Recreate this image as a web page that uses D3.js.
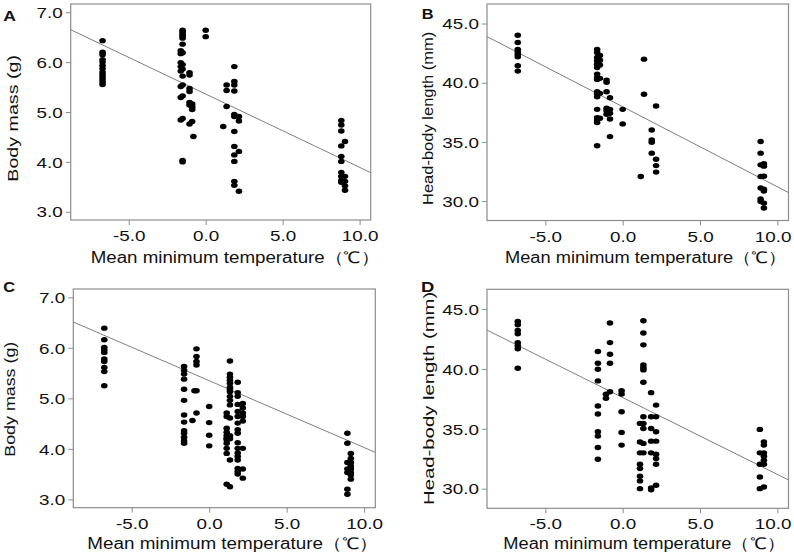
<!DOCTYPE html>
<html><head><meta charset="utf-8">
<script src="https://cdn.jsdelivr.net/npm/d3@7"></script>
<style>
body{margin:0;background:#fff}
svg{display:block}
text{font-family:"Liberation Sans",Arial,sans-serif;fill:#111}
</style>
</head><body>
<svg id="chart" width="794" height="558"></svg>
<script>
// ---------- data ----------
const tempTicks = [-5, 0, 5, 10];
const massTicks = [3, 4, 5, 6, 7];
const lengthTicks = [30, 35, 40, 45];
const xTitleText = "Mean minimum temperature\uFF08\u2103\uFF09";

// each entry: [mean minimum temperature, [values at that temperature]]
const massA = [
  [-6.7, [6.43, 6.2, 6.15, 6.05, 6.0, 5.93, 5.87, 5.8, 5.75, 5.7, 5.65, 5.6, 5.55]],
  [-1.5, [6.64, 6.6, 6.56, 6.52, 6.48, 6.36, 6.19, 5.95, 5.86, 5.72, 5.54, 5.32, 4.87, 4.03, 4.0]],
  [-1.62, [6.23, 6.17, 5.99, 5.91, 5.82, 5.51, 5.29, 4.84]],
  [0.0, [6.64, 6.51]],
  [-1.05, [5.79, 5.74, 5.47, 5.41, 5.19, 5.14, 4.76]],
  [-0.88, [5.16, 5.12, 5.09, 5.05, 4.81]],
  [-0.8, [4.51]],
  [1.14, [4.71]],
  [1.36, [5.54, 5.43, 5.11]],
  [1.86, [5.91, 5.61, 5.54, 5.42, 4.95, 4.91, 4.61, 4.31, 4.14, 4.01, 3.61, 3.53]],
  [2.16, [4.91, 4.82, 4.21, 3.41]],
  [8.81, [4.83, 4.74, 4.62, 4.32, 4.11, 4.01, 3.79, 3.71, 3.63, 3.59]],
  [9.05, [4.41, 3.71, 3.61, 3.52, 3.43]]
];
const lengthB = [
  [-6.78, [44.01, 43.4, 42.81, 42.6, 42.39, 42.19, 41.43, 40.98]],
  [-1.65, [42.81, 42.56, 42.14, 41.85, 41.57, 41.29, 40.73, 40.45, 40.28, 39.24, 39.04, 38.82, 37.75, 37.05, 36.85, 36.63, 34.67]],
  [-1.47, [42.3, 41.9, 41.5, 40.37, 39.1, 37.0]],
  [-1.04, [40.22, 40.03, 39.24, 37.84, 37.64, 37.33]],
  [-0.82, [38.73, 37.75, 37.42, 36.94, 35.45]],
  [0.0, [37.75, 36.52]],
  [1.17, [32.08]],
  [1.38, [41.99, 39.02]],
  [1.88, [36.01, 35.17, 34.97, 34.05]],
  [2.16, [38.03, 33.54, 33.0, 32.45]],
  [8.92, [35.03, 34.05, 33.06, 32.08, 31.1, 30.17, 29.97]],
  [9.13, [33.15, 32.95, 32.1, 31.0, 30.85, 29.83, 29.41]]
];
const massC = [
  [-6.77, [6.39, 6.16, 6.01, 5.96, 5.91, 5.78, 5.73, 5.61, 5.53, 5.25]],
  [-1.62, [5.63, 5.55, 5.48, 5.38, 5.18, 4.96, 4.67, 4.53, 4.36, 4.31, 4.23, 4.16, 4.11]],
  [-1.08, [4.56]],
  [-0.95, [5.15]],
  [-0.82, [5.98, 5.83, 5.73, 5.66, 5.15, 4.71]],
  [0.0, [4.84, 4.52, 4.27, 4.06]],
  [1.13, [4.71, 4.64, 4.41, 4.33, 4.26, 4.21, 4.18, 4.11, 4.01, 3.91, 3.3]],
  [1.34, [5.74, 5.48, 5.42, 5.36, 5.3, 5.22, 5.17, 5.13, 5.04, 4.96, 4.87, 4.61, 4.26, 4.2, 3.78, 3.25]],
  [1.84, [5.32, 5.11, 5.04, 4.88, 4.74, 4.64, 4.51, 4.38, 4.31, 4.12, 4.01, 3.92, 3.85, 3.78, 3.61, 3.55, 3.5]],
  [2.17, [4.9, 4.81, 4.71, 4.64, 4.55, 4.01, 3.6, 3.42]],
  [8.92, [4.31, 4.11, 3.73, 3.6, 3.53, 3.2, 3.1]],
  [9.14, [3.91, 3.81, 3.73, 3.66, 3.6, 3.53, 3.48, 3.4]]
];
const lengthD = [
  [-6.78, [43.96, 43.69, 43.21, 42.93, 42.2, 41.93, 41.68, 40.06]],
  [-1.6, [41.45, 40.48, 39.97, 39.0, 36.9, 36.23, 34.75, 34.39, 33.44, 32.46]],
  [-1.08, [37.88, 37.55]],
  [-0.82, [43.83, 42.2, 41.23, 40.48, 38.1]],
  [-0.07, [38.18, 37.9, 36.42, 34.7, 33.64]],
  [1.12, [35.45, 33.9, 32.99, 32.04, 31.68, 31.04, 30.65, 30.0]],
  [1.34, [44.02, 43.0, 42.01, 40.33, 40.1, 39.92, 38.89, 36.0, 35.45, 35.03, 33.78, 32.99]],
  [1.84, [38.02, 36.0, 35.03, 33.97, 32.99, 30.06, 29.9]],
  [2.16, [36.98, 36.0, 34.75, 33.97, 32.88, 32.52, 32.04, 30.28]],
  [8.87, [34.95, 32.99, 32.04, 30.98, 30.0]],
  [9.13, [33.91, 33.64, 32.99, 32.71, 32.38, 32.04, 30.14]]
];
// fitted regression lines: value = intercept + slope * temperature
const fitA = [5.36, -0.147];
const fitB = [37.97, -0.676];
const fitC = [5.35, -0.1324];
const fitD = [37.61, -0.642];

// ---------- layout ----------
const panels = [
  {letter:"A", data:massA, fit:fitA, ticks:massTicks, yDomain:[2.835,7.165], yTitle:"Body mass (g)",
   rect:[70.7,370.7,4,220], letterPos:[3.3,20.7,12.7], xt:[90.7,263,289], yt:[17.6,181.7,126.7]},
  {letter:"B", data:lengthB, fit:fitB, ticks:lengthTicks, yDomain:[28.36,46.65], yTitle:"Head-body length (mm)",
   rect:[487,788.5,4,220.5], letterPos:[421.7,18.5,11.8], xt:[505,263,281.7], yt:[432.7,205,173.3]},
  {letter:"C", data:massC, fit:fitC, ticks:massTicks, yDomain:[2.835,7.165], yTitle:"Body mass (g)",
   rect:[73.3,375.3,289,507.7], letterPos:[3.3,291.7,11.8], xt:[87.3,549,291], yt:[15.2,456.7,115]},
  {letter:"D", data:lengthD, fit:fitD, ticks:lengthTicks, yDomain:[28.36,46.65], yTitle:"Head-body length (mm)",
   rect:[487,788.5,289.3,508.3], letterPos:[421,291.7,13.3], xt:[503.3,548.5,281.7], yt:[434.3,505,213.3]}
];
const xDomain = [-8.77, 10.72];
const gray = "#8c8c8c";
const stretch = 1.3;
const svg = d3.select("#chart");
const fmt = d => d.toFixed(1);

panels.forEach(p => {
  const [x0, x1, y0, y1] = p.rect;
  const x = d3.scaleLinear().domain(xDomain).range([x0, x1]);
  const y = d3.scaleLinear().domain(p.yDomain).range([y1, y0]);
  const g = svg.append("g");

  // axes
  const gx = g.append("g").attr("transform", `translate(0,${y1})`)
    .call(d3.axisBottom(x).tickValues(tempTicks).tickFormat(fmt).tickSizeOuter(0).tickSize(5));
  const gy = g.append("g").attr("transform", `translate(${x0},0)`)
    .call(d3.axisLeft(y).tickValues(p.ticks).tickFormat(fmt).tickSizeOuter(0).tickSize(5));
  [gx, gy].forEach(a => {
    a.select(".domain").remove();
    a.selectAll(".tick line").attr("stroke", gray);
    a.selectAll(".tick text").attr("font-size", 14.5).attr("fill", "#1a1a1a")
      .style("font-family", '"Liberation Sans", Arial, sans-serif');
  });
  gx.selectAll(".tick text").attr("y", 0).attr("dy", 0)
    .attr("transform", function(d) {
      const w = this.getComputedTextLength() * stretch;
      const right = x(d) + w / 2;
      const shift = right > 791 ? 791 - right : 0;
      return `translate(${shift},21) scale(${stretch},1)`;
    });
  gy.selectAll(".tick text").attr("x", 0).attr("dy", "0.36em")
    .attr("transform", `translate(-8,0) scale(${stretch},1)`);

  // frame
  g.append("rect").attr("x", x0).attr("y", y0).attr("width", x1 - x0).attr("height", y1 - y0)
    .attr("fill", "none").attr("stroke", gray).attr("stroke-width", 1.2);

  // regression line
  const f = t => p.fit[0] + p.fit[1] * t;
  g.append("line")
    .attr("x1", x(xDomain[0])).attr("y1", y(f(xDomain[0])))
    .attr("x2", x(xDomain[1])).attr("y2", y(f(xDomain[1])))
    .attr("stroke", "#808080").attr("stroke-width", 1);

  // points
  const pts = p.data.flatMap(([t, vals]) => vals.map(v => ({t, v})));
  g.append("g").selectAll("ellipse").data(pts).join("ellipse")
    .attr("cx", d => x(d.t)).attr("cy", d => y(d.v))
    .attr("rx", 3.3).attr("ry", 2.7).attr("fill", "#000");

  // titles
  g.append("text").attr("x", p.xt[0]).attr("y", p.xt[1])
    .attr("font-size", 16).attr("textLength", p.xt[2]).attr("lengthAdjust", "spacingAndGlyphs")
    .text(xTitleText);
  g.append("text").attr("transform", `translate(${p.yt[0]},${p.yt[1]}) rotate(-90)`)
    .attr("font-size", 15).attr("textLength", p.yt[2]).attr("lengthAdjust", "spacingAndGlyphs")
    .text(p.yTitle);
  g.append("text").attr("x", p.letterPos[0]).attr("y", p.letterPos[1])
    .attr("font-size", 15).attr("font-weight", "bold")
    .attr("textLength", p.letterPos[2]).attr("lengthAdjust", "spacingAndGlyphs")
    .text(p.letter);
});
</script>
</body></html>
